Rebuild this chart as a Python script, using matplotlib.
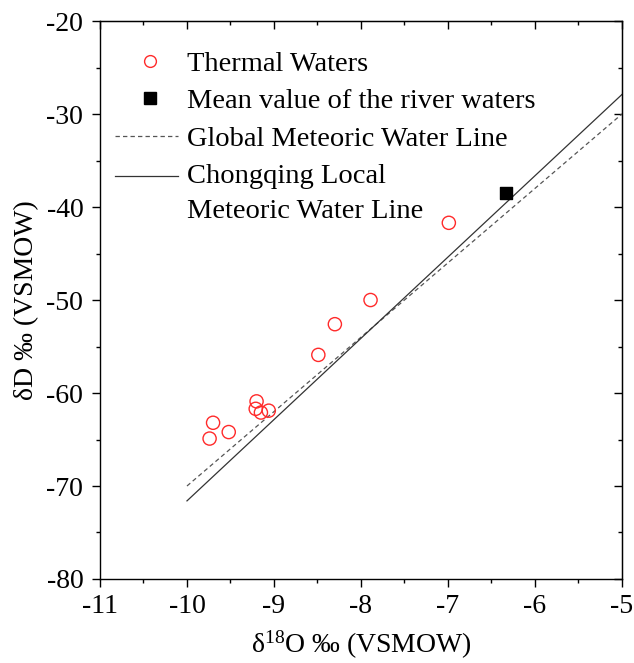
import matplotlib
matplotlib.use("Agg")
import matplotlib.pyplot as plt
from matplotlib.ticker import MultipleLocator
from matplotlib.lines import Line2D
from matplotlib.legend_handler import HandlerLine2D

plt.rcParams['font.family'] = ['Liberation Serif', 'DejaVu Serif']
plt.rcParams['mathtext.fontset'] = 'custom'
plt.rcParams['mathtext.rm'] = 'Liberation Serif'
plt.rcParams['mathtext.it'] = 'Liberation Serif:italic'
plt.rcParams['axes.unicode_minus'] = False

# Data
thermal_d18o = [-9.70, -9.74, -9.52, -9.20, -9.21, -9.15, -9.06, -8.49, -8.30, -7.89, -6.99]
thermal_dD = [-63.2, -64.9, -64.2, -60.9, -61.7, -62.1, -61.9, -55.9, -52.6, -50.0, -41.7]
river_d18o = [-6.33]
river_dD = [-38.5]
gmwl_x = [-10, -5]
gmwl_y = [-70, -30]
lmwl_x = [-10, -5]
lmwl_y = [-71.6, -27.9]


class ShiftedHandler(HandlerLine2D):
    def __init__(self, dx=0.0, dy=0.0, **kw):
        super().__init__(**kw)
        self.dx = dx
        self.dy = dy

    def create_artists(self, legend, orig_handle, xdescent, ydescent, width, height, fontsize, trans):
        return super().create_artists(legend, orig_handle, xdescent - self.dx, ydescent - 2 * self.dy,
                                      width, height, fontsize, trans)


RED = '#ff2a2a'
fig = plt.figure(figsize=(6.34, 6.63), dpi=100)
ax = fig.add_axes([0.1577, 0.1267, 0.8233, 0.8416])

ax.plot(gmwl_x, gmwl_y, color='#555555', lw=0.9, ls=(0, (3.5, 2.5)), zorder=2)
ax.plot(lmwl_x, lmwl_y, color='#333333', lw=0.9, ls='-', zorder=2)
ax.scatter(thermal_d18o, thermal_dD, s=90, facecolors='none', edgecolors=RED, linewidths=1.0, zorder=3)
ax.scatter(river_d18o, river_dD, s=64, marker='s', color='black', zorder=3)

ax.set_xlim(-11, -5)
ax.set_ylim(-80, -20)
ax.xaxis.set_major_locator(MultipleLocator(1))
ax.xaxis.set_minor_locator(MultipleLocator(0.5))
ax.yaxis.set_major_locator(MultipleLocator(10))
ax.yaxis.set_minor_locator(MultipleLocator(5))

ax.tick_params(axis='both', which='both', labelsize=20, width=1.0, direction='out')
ax.tick_params(axis='both', which='major', length=6)
ax.tick_params(axis='both', which='minor', length=3)
ax.tick_params(axis='x', which='major', pad=5)
ax.tick_params(axis='y', which='major', pad=6)

# inward ticks on top/right
secx = ax.secondary_xaxis('top')
secx.xaxis.set_major_locator(MultipleLocator(1))
secx.xaxis.set_minor_locator(MultipleLocator(0.5))
secx.tick_params(which='both', direction='in', labeltop=False, width=1.0)
secx.tick_params(which='major', length=6)
secx.tick_params(which='minor', length=3)
secy = ax.secondary_yaxis('right')
secy.yaxis.set_major_locator(MultipleLocator(10))
secy.yaxis.set_minor_locator(MultipleLocator(5))
secy.tick_params(which='both', direction='in', labelright=False, width=1.0)
secy.tick_params(which='major', length=6)
secy.tick_params(which='minor', length=3)

for sp in ax.spines.values():
    sp.set_linewidth(1.0)

ax.set_xlabel(r'δ$^{18}$O ‰ (VSMOW)', fontsize=20, labelpad=7)
ax.set_ylabel('δD ‰ (VSMOW)', fontsize=20, labelpad=5)

h_thermal = Line2D([], [], ls='none', marker='o', markersize=8.5, markerfacecolor='none',
                   markeredgecolor=RED, markeredgewidth=1.0)
h_river = Line2D([], [], ls='none', marker='s', markersize=8, color='black')
h_gmwl = Line2D([], [], color='#555555', lw=0.9, ls=(0, (3.5, 2.5)))
h_lmwl = Line2D([], [], color='#333333', lw=0.9)
handles = [h_thermal, h_river, h_gmwl, h_lmwl]
labels = ['Thermal Waters', 'Mean value of the river waters', 'Global Meteoric Water Line',
          'Chongqing Local\nMeteoric Water Line']
leg = ax.legend(handles, labels, loc='upper left', bbox_to_anchor=(0.0287, 0.947), frameon=False,
                fontsize=20.5, handlelength=2.2, handletextpad=0.32, labelspacing=0.42,
                borderpad=0, borderaxespad=0,
                handler_map={h_thermal: ShiftedHandler(dx=2.5),
                             h_river: ShiftedHandler(dx=2.5),
                             h_lmwl: ShiftedHandler(dy=12.5)})
for t in leg.get_texts():
    t.set_linespacing(1.5)

fig.savefig('out.png', dpi=100)
